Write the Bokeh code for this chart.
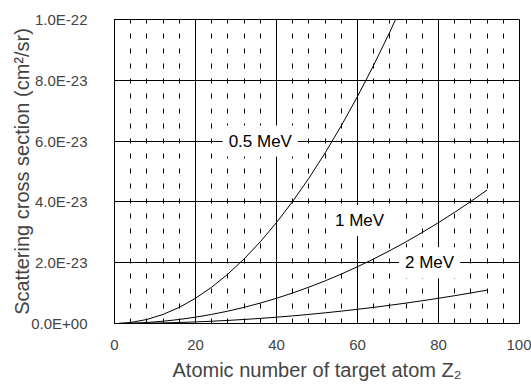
from bokeh.plotting import figure
from bokeh.models import (Range1d, FixedTicker, CustomJSTickFormatter, Label)
from bokeh.embed import file_html
from bokeh.resources import INLINE

# Atomic number of the target atom (Z2)
z2 = [1, 4, 8, 12, 16, 20, 24, 28, 32, 36, 40, 44, 48, 52, 56, 60, 64,
      68, 72, 76, 80, 84, 88, 92]

# Scattering cross sections (cm^2/sr) for each beam energy
sigma_05mev = [2.1e-26, 3.3e-25, 1.33e-24, 2.99e-24, 5.31e-24, 8.30e-24,
               1.195e-23, 1.627e-23, 2.124e-23, 2.689e-23, 3.320e-23,
               4.017e-23, 4.780e-23, 5.610e-23, 6.506e-23, 7.469e-23,
               8.498e-23, 9.594e-23, 1.0756e-22, 1.1984e-22, 1.3279e-22,
               1.4640e-22, 1.6067e-22, 1.756e-22]
sigma_1mev = [5.2e-27, 8.3e-26, 3.32e-25, 7.47e-25, 1.328e-24, 2.075e-24,
              2.988e-24, 4.067e-24, 5.311e-24, 6.722e-24, 8.299e-24,
              1.0042e-23, 1.1951e-23, 1.4026e-23, 1.6266e-23, 1.8673e-23,
              2.1246e-23, 2.3985e-23, 2.6889e-23, 2.9960e-23, 3.3197e-23,
              3.6599e-23, 4.0168e-23, 4.390e-23]
sigma_2mev = [1.3e-27, 2.1e-26, 8.3e-26, 1.87e-25, 3.32e-25, 5.19e-25,
              7.47e-25, 1.017e-24, 1.328e-24, 1.680e-24, 2.075e-24,
              2.510e-24, 2.988e-24, 3.506e-24, 4.067e-24, 4.668e-24,
              5.311e-24, 5.996e-24, 6.722e-24, 7.490e-24, 8.299e-24,
              9.150e-24, 1.0042e-23, 1.0975e-23]

# Axis ticks and their labels
x_ticks = [0, 20, 40, 60, 80, 100]
y_ticks = [0.0, 2e-23, 4e-23, 6e-23, 8e-23, 1e-22]
y_labels = ["0.0E+00", "2.0E-23", "4.0E-23", "6.0E-23", "8.0E-23", "1.0E-22"]

FONT = "Liberation Sans"

p = figure(width=531, height=386, output_backend="svg", toolbar_location=None,
           x_range=Range1d(0, 100), y_range=Range1d(0, 1e-22),
           min_border_left=114, min_border_right=12,
           min_border_top=19, min_border_bottom=63)

p.outline_line_color = "black"
p.outline_line_width = 1
p.background_fill_color = "white"
p.border_fill_color = "white"

# x axis
p.xaxis.ticker = FixedTicker(ticks=x_ticks,
                             minor_ticks=[v for v in range(4, 100, 4) if v % 20])
p.xaxis.axis_label = "Atomic number of target atom Z\u2082"
p.xaxis.axis_label_text_font = FONT
p.xaxis.axis_label_text_font_size = "20px"
p.xaxis.axis_label_text_font_style = "normal"
p.xaxis.axis_label_standoff = 6
p.xaxis.major_label_text_font = FONT
p.xaxis.major_label_text_font_size = "15px"
p.xaxis.major_label_standoff = 16
p.xaxis.major_tick_in = 0
p.xaxis.major_tick_out = 0
p.xaxis.minor_tick_in = 0
p.xaxis.minor_tick_out = 0
p.xaxis.axis_line_color = "black"

# y axis
p.yaxis.ticker = FixedTicker(ticks=y_ticks)
p.yaxis.formatter = CustomJSTickFormatter(
    args=dict(tick_values=y_ticks, tick_texts=y_labels),
    code="""
let best = 0, dist = Infinity;
for (let k = 0; k < tick_values.length; k++) {
  const d = Math.abs(tick_values[k] - tick);
  if (d < dist) { dist = d; best = k; }
}
return tick_texts[best];
""")
p.yaxis.axis_label = "Scattering cross section (cm\u00b2/sr)"
p.yaxis.axis_label_text_font = FONT
p.yaxis.axis_label_text_font_size = "20px"
p.yaxis.axis_label_text_font_style = "normal"
p.yaxis.axis_label_standoff = -5
p.yaxis.major_label_text_font = FONT
p.yaxis.major_label_text_font_size = "15px"
p.yaxis.major_label_standoff = 27
p.yaxis.major_tick_in = 5
p.yaxis.major_tick_out = 0
p.yaxis.minor_tick_in = 0
p.yaxis.minor_tick_out = 0
p.yaxis.axis_line_color = "black"

# grid: solid majors, dashed vertical minors
p.xgrid.grid_line_color = "black"
p.xgrid.grid_line_width = 1
p.xgrid.minor_grid_line_color = "black"
p.xgrid.minor_grid_line_dash = "5 10"
p.xgrid.minor_grid_line_width = 1
p.ygrid.grid_line_color = "black"
p.ygrid.grid_line_width = 1

# curves
for ys in (sigma_05mev, sigma_1mev, sigma_2mev):
    p.line(z2, ys, line_color="black", line_width=1)

# energy labels on white boxes
for txt, x, y in (("0.5 MeV", 36, 6e-23), ("1 MeV", 60.5, 3.39e-23),
                  ("2 MeV", 77.8, 2e-23)):
    p.add_layout(Label(x=x, y=y, text=txt, text_align="center",
                       text_baseline="middle", text_font=FONT,
                       text_font_size="17px", text_color="black",
                       background_fill_color="white", padding=6))

open("out.html", "w").write(file_html(p, INLINE))
